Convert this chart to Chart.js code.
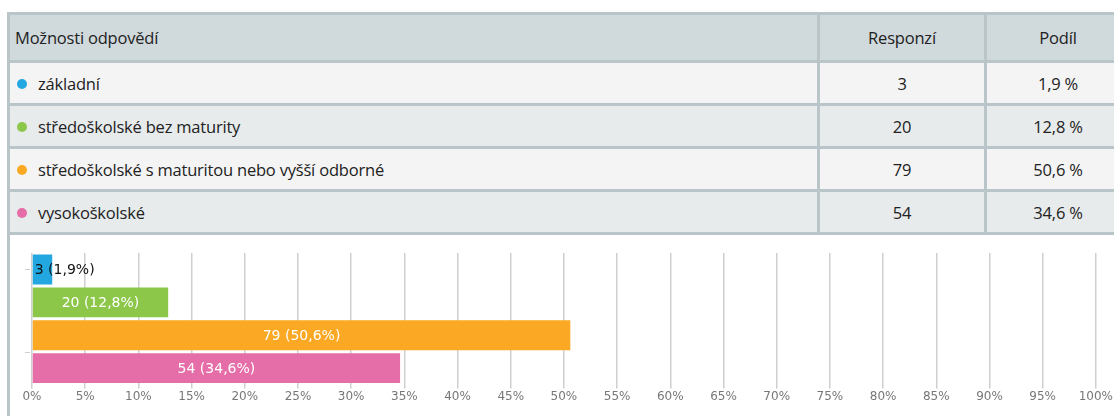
<!DOCTYPE html>
<html>
<head>
<meta charset="utf-8">
<script src="https://cdn.jsdelivr.net/npm/chart.js@4/dist/chart.umd.min.js"></script>
<style>
    body { margin: 0; background: #fff; overflow: hidden; width: 1114px; height: 416px; }
    .box { position: absolute; left: 7px; top: 12px; width: 1122px; height: 420px; border-left: 3px solid #b9c5c9; }
    table { border-collapse: collapse; width: 1125px; margin-left: -3px; font-family: "Open Sans", sans-serif; font-size: 16.5px; color: #222; letter-spacing: -0.2px; }
    td, th { border: 3px solid #b9c5c9; padding: 0 5px; font-weight: normal; }
    th { background: #d0d9dc; height: 45px; text-align: left; }
    td { height: 40px; }
    tr.odd td { background: #f4f4f4; }
    tr.even td { background: #e7ebec; }
    .num { text-align: center; }
    .dot { display: inline-block; width: 10px; height: 10px; border-radius: 50%; margin: 0 11px 1px 2px; }
    .chart { position: absolute; left: 10px; top: 236px; width: 1104px; height: 180px; }
</style>
</head>
<body>
<div class="box">
    <table id="tbl">
        <thead>
            <tr><th style="width:797px">Možnosti odpovědí</th><th class="num" style="width:154px">Responzí</th><th class="num">Podíl</th></tr>
        </thead>
        <tbody></tbody>
    </table>
</div>
<div class="chart"><canvas id="chart"></canvas></div>
<script>
// answer options and results
const categories = ['základní', 'středoškolské bez maturity', 'středoškolské s maturitou nebo vyšší odborné', 'vysokoškolské'];
const counts = [3, 20, 79, 54];
const shares = [1.9, 12.8, 50.6, 34.6];
const colors = ['#22a7e0', '#8cc74a', '#fba924', '#e66ea8'];

function fmt(v) {
    return v.toFixed(1).replace('.', ',');
}

// fill the table
const tbody = document.querySelector('#tbl tbody');
categories.forEach((c, i) => {
    const tr = document.createElement('tr');
    tr.className = i % 2 === 0 ? 'odd' : 'even';
    tr.innerHTML = '<td><span class="dot" style="background:' + colors[i] + '"></span>' + c + '</td>' +
        '<td class="num">' + counts[i] + '</td><td class="num">' + fmt(shares[i]) + ' %</td>';
    tbody.appendChild(tr);
});

// labels drawn on the bars, plus the two little marks on the left
const barLabels = {
    id: 'barLabels',
    afterDatasetsDraw(chart) {
        const ctx = chart.ctx;
        const meta = chart.getDatasetMeta(0);
        const yScale = chart.scales.y;
        ctx.save();
        ctx.strokeStyle = '#c8d0d4';
        ctx.lineWidth = 1;
        [0, 2.5].forEach(v => {
            const py = Math.round(yScale.getPixelForValue(v)) + 0.5;
            ctx.beginPath();
            ctx.moveTo(chart.chartArea.left - 7, py);
            ctx.lineTo(chart.chartArea.left - 2, py);
            ctx.stroke();
        });
        ctx.font = '14px "DejaVu Sans", sans-serif';
        ctx.textBaseline = 'middle';
        meta.data.forEach((bar, i) => {
            const text = counts[i] + ' (' + fmt(shares[i]) + '%)';
            const w = ctx.measureText(text).width;
            if (bar.x - bar.base < w + 10) {
                ctx.fillStyle = '#111';
                ctx.textAlign = 'left';
                ctx.fillText(text, bar.base + 2, bar.y + 1);
            } else {
                ctx.fillStyle = '#fff';
                ctx.textAlign = 'center';
                ctx.fillText(text, (bar.x + bar.base) / 2, bar.y + 1);
            }
        });
        ctx.restore();
    }
};

new Chart(document.getElementById('chart'), {
    type: 'bar',
    data: {
        labels: categories,
        datasets: [{
            data: shares,
            backgroundColor: colors,
            borderWidth: 0,
            barPercentage: 0.91,
            categoryPercentage: 1
        }]
    },
    options: {
        indexAxis: 'y',
        responsive: true,
        maintainAspectRatio: false,
        animation: false,
        layout: { padding: { top: 17, right: 7, left: 14, bottom: 11 } },
        plugins: { legend: { display: false }, tooltip: { enabled: false } },
        scales: {
            x: {
                min: 0,
                max: 100,
                ticks: {
                    stepSize: 5,
                    color: '#777',
                    font: { family: '"DejaVu Sans", sans-serif', size: 12 },
                    padding: 1,
                    callback: v => v + '%'
                },
                grid: { color: '#cfcfcf', lineWidth: 1.5, tickLength: 4 },
                border: { display: false }
            },
            y: {
                ticks: { display: false },
                grid: { display: false },
                border: { display: false }
            }
        }
    },
    plugins: [barLabels]
});
</script>
</body>
</html>
